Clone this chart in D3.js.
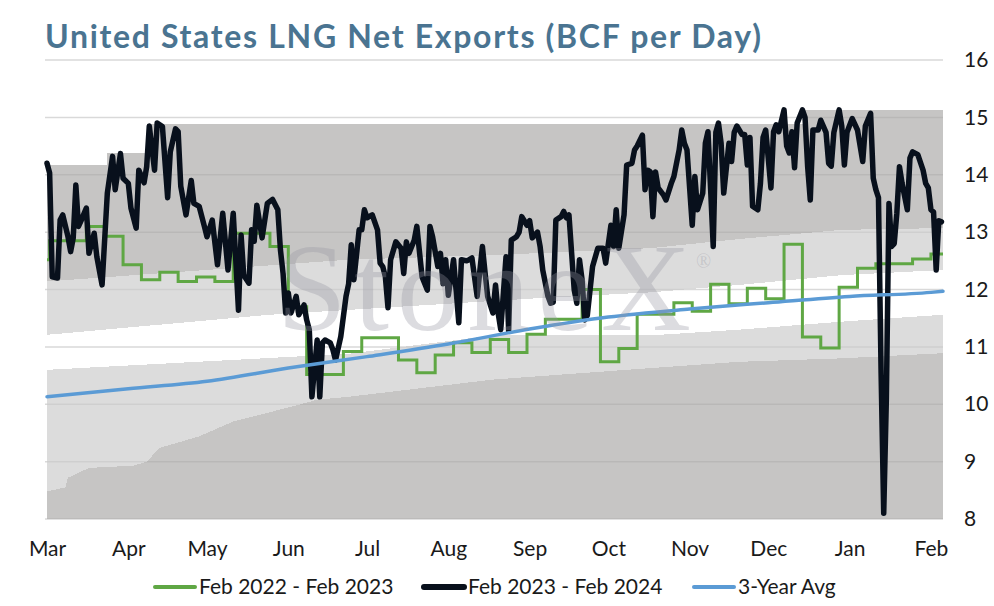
<!DOCTYPE html>
<html>
<head>
<meta charset="utf-8">
<script src="https://cdn.jsdelivr.net/npm/d3@7"></script>
<style>
  body { margin: 0; background: #fff; }
  svg { display: block; font-family: Lato, "Open Sans", sans-serif; }
</style>
</head>
<body>
<svg id="chart"></svg>
<script>
// ---- data (day 0 = 1 Mar) ----
const monthLabels = ["Mar", "Apr", "May", "Jun", "Jul", "Aug", "Sep", "Oct", "Nov", "Dec", "Jan", "Feb"];
const monthStartDays = [0, 31, 61, 92, 122, 153, 184, 214, 245, 275, 306, 337];
const yTickValues = [8, 9, 10, 11, 12, 13, 14, 15, 16];
const legendLabels = ["Feb 2022 - Feb 2023", "Feb 2023 - Feb 2024", "3-Year Avg"];

// weekly values, Feb 2022 - Feb 2023
const exports2022 = [[0,12.52],[1,12.85],[15,13.1],[22,12.93],[29,12.43],[36,12.17],[43,12.3],[50,12.14],[57,12.22],[64,12.14],
  [71,12.98],[85,12.75],[92,11.7],[99,10.52],[113,10.92],[120,11.16],[134,10.77],[141,10.55],[148,10.86],[155,11.07],
  [162,10.9],[169,11.13],[176,10.9],[183,11.22],[190,11.48],[204,12.0],[211,10.74],[218,10.97],[225,11.57],[239,11.77],
  [246,11.62],[253,12.09],[260,11.75],[267,12.02],[274,11.84],[281,12.79],[288,11.17],[295,10.98],[302,12.04],[309,12.37],
  [316,12.45],[330,12.53],[337,12.62],[341.6,12.62]];

// daily values, Feb 2023 - Feb 2024
const exports2023 = [[0,14.2],[1,14.03],[2,12.22],[4,12.2],[5,13.21],[6,13.3],[8,12.92],[9,12.66],[10,12.9],[11,13.82],
  [12,13.1],[13,13.2],[15,13.42],[16,12.63],[18,12.98],[19,12.57],[21,12.08],[23,13.68],[25,14.32],[26,13.74],[28,14.37],
  [29,13.94],[31,13.85],[32,13.42],[34,13.07],[35,14.08],[37,13.86],[38,14.14],[39,14.85],[41,14.08],[42,14.9],[44,14.84],
  [46,13.6],[47,14.4],[49,14.8],[50,14.75],[51,13.8],[53,13.3],[55,13.9],[56,13.5],[58,13.45],[60,13.1],[61,12.92],
  [63,13.21],[65,12.43],[67,13.33],[69,12.34],[71,13.33],[72,12.49],[73,11.64],[74,12.95],[75,12.25],[77,12.11],[78,13.04],
  [79,12.84],[80,13.47],[82,12.9],[84,13.5],[86,13.57],[88,13.39],[89,12.69],[90,12.28],[91,11.59],[92,11.94],[93,11.59],
  [95,11.88],[96,11.56],[98,11.73],[99,11.47],[100,11.3],[101,10.13],[103,11.12],[104,10.13],[105,11.07],[106,11.12],
  [108,11.07],[109,10.95],[110,10.77],[112,11.18],[114,11.88],[115,12.1],[116,12.78],[117,12.17],[119,13.04],[120,13.04],
  [121,13.39],[122,13.25],[124,13.3],[126,13.04],[127,12.46],[128,12.4],[129,12.22],[130,11.68],[131,12.52],[133,12.83],
  [135,12.72],[136,12.28],[137,12.83],[138,12.63],[140,12.86],[141,13.1],[143,12.22],[145,11.99],[146,13.1],[147,12.92],
  [149,12.4],[150,12.63],[151,12.1],[152,12.52],[153,11.9],[155,12.52],[157,11.42],[158,12.52],[160,12.5],[161,12.52],
  [162,12.55],[164,11.88],[166,12.75],[167,12.3],[168,11.88],[170,11.59],[171,12.08],[172,11.59],[173,11.3],[175,12.57],
  [176,11.28],[177,12.86],[179,12.92],[180,13.0],[181,13.27],[183,13.12],[184,13.2],[185,12.9],[187,13.0],[188,12.75],
  [189,12.34],[191,11.88],[192,11.76],[193,11.78],[194,13.21],[196,13.27],[197,13.36],[198,13.25],[199,13.3],[201,11.99],
  [202,11.76],[203,12.52],[204,12.17],[205,11.47],[206,11.55],[208,12.4],[210,12.72],[212,12.72],[213,12.46],[215,13.12],
  [216,12.75],[217,13.39],[218,12.72],[220,13.3],[221,14.17],[223,14.2],[224,14.43],[225,14.5],[227,14.69],[228,13.74],
  [229,14.08],[230,14.05],[231,13.27],[232,14.05],[233,13.77],[235,13.65],[236,13.56],[238,13.85],[239,13.97],[241,14.43],
  [242,14.78],[243,14.55],[244,14.43],[246,13.12],[247,13.97],[248,13.39],[250,13.68],[251,14.55],[252,14.75],[254,12.75],
  [255,14.74],[256,14.9],[257,14.55],[258,13.68],[260,14.55],[261,14.23],[262,14.74],[263,14.85],[265,14.7],[266,14.7],
  [267,14.17],[268,14.65],[269,13.45],[271,13.39],[272,13.85],[273,14.65],[274,14.78],[276,13.77],[277,14.75],[278,14.87],
  [279,14.75],[281,15.13],[282,14.5],[283,14.38],[284,14.75],[285,14.12],[286,14.9],[288,15.13],[289,15.0],[290,14.14],
  [291,13.56],[292,14.78],[294,14.78],[295,14.95],[297,14.74],[298,14.2],[299,14.15],[300,14.74],[302,15.13],[303,14.85],
  [304,14.17],[305,14.74],[307,14.98],[309,14.78],[311,14.23],[312,14.85],[314,15.07],[315,13.94],[316,13.74],[317,13.6],
  [318,10.54],[319,8.1],[320,10.08],[321,13.5],[322,12.75],[323,12.8],[324,13.33],[325,14.14],[326,13.85],[328,13.39],
  [329,14.29],[330,14.4],[332,14.35],[334,14.08],[335,13.85],[336,13.77],[337,13.39],[338,13.35],[339,12.34],[340,13.2],
  [341,13.18]];

const avg3yr = [[0,10.13],[31,10.27],[61,10.4],[92,10.63],[122,10.83],[153,11.05],[184,11.31],[214,11.52],
  [245,11.66],[275,11.77],[306,11.88],[337,11.95],[341.6,11.97]];

// range bands behind the lines
const rangeMax = [[0,14.17],[23,14.38],[38,14.88],[289,15.13],[341.6,15.13]];   // steps
const bandHigh = [[0,12.14],[115,12.52],[170,12.6],[230,12.72],[264,12.88],[303,13.04],[341.6,13.07]];
const bandMid = [[0,11.21],[85,11.56],[170,11.8],[188,11.85],[230,11.95],[264,12.08],[303,12.25],[341.6,12.34]];
const bandLow = [[0,10.6],[115,10.88],[170,11.2],[230,11.2],[264,11.3],[303,11.44],[341.6,11.56]];
const rangeMin = [[0,8.48],[7,8.55],[8,8.72],[16,8.89],[33,8.93],[38,9.0],[43,9.24],[58,9.44],[71,9.7],[84,9.85],
  [96,9.99],[103,10.08],[115,10.13],[170,10.43],[230,10.63],[264,10.74],[303,10.8],[341.6,10.89]];


class RangeChart {

    constructor( config ) {
        this.config = {
            parent: config.parent,
            width: config.width || 994,
            height: config.height || 606,
            margin: config.margin || {top:60, right:51, bottom:87, left:47}
        }
        this.init();
    }

    init() {
        let self = this;

        self.svg = d3.select( self.config.parent )
            .attr('width', self.config.width)
            .attr('height', self.config.height);

        self.inner_width = self.config.width - self.config.margin.left - self.config.margin.right;
        self.inner_height = self.config.height - self.config.margin.top - self.config.margin.bottom;

        self.chart = self.svg.append('g')
            .attr('transform', `translate(${self.config.margin.left}, ${self.config.margin.top})`);

        self.xscale = d3.scaleLinear()
            .domain( [0, d3.max(avg3yr, d => d[0])] )
            .range( [0, self.inner_width] );

        self.yscale = d3.scaleLinear()
            .domain( d3.extent(yTickValues) )
            .range( [self.inner_height, 0] );

        self.line = d3.line()
            .x( d => self.xscale(d[0]) )
            .y( d => self.yscale(d[1]) );

        self.smoothLine = d3.line()
            .curve( d3.curveMonotoneX )
            .x( d => self.xscale(d[0]) )
            .y( d => self.yscale(d[1]) );

        self.stepLine = d3.line()
            .curve( d3.curveStepAfter )
            .x( d => self.xscale(d[0]) )
            .y( d => self.yscale(d[1]) );
    }

    // turn [day, value] steps into explicit corner points
    steps( arr ) {
        let pts = [];
        arr.forEach( (d, i) => {
            if (i > 0) pts.push( [d[0], arr[i-1][1]] );
            pts.push( d );
        });
        return pts;
    }

    band( upper, lower ) {
        return this.line( upper.concat( lower.slice().reverse() ) ) + 'Z';
    }

    render() {
        let self = this;
        const floor = [[0, 8], [d3.max(avg3yr, d => d[0]), 8]];

        // gridlines first, the bands are partly see-through
        self.chart.append('g')
            .selectAll('line')
            .data(yTickValues)
            .join('line')
            .attr('x1', -2)
            .attr('x2', self.inner_width)
            .attr('y1', d => self.yscale(d))
            .attr('y2', d => self.yscale(d))
            .attr('stroke', '#d9d9d9')
            .attr('stroke-width', 1.5);

        // watermark, also under the bands
        self.svg.append('text')
            .attr('x', 277)
            .attr('y', 330)
            .attr('font-family', '"Liberation Serif", "DejaVu Serif", serif')
            .attr('font-size', 125)
            .attr('textLength', 414)
            .attr('lengthAdjust', 'spacing')
            .attr('fill', 'rgba(150,150,162,0.33)')
            .text('StoneX');
        self.svg.append('text')
            .attr('x', 696)
            .attr('y', 268)
            .attr('font-family', '"Liberation Serif", "DejaVu Serif", serif')
            .attr('font-size', 20)
            .attr('fill', 'rgba(150,150,162,0.33)')
            .text('®');

        const dark = 'rgba(169,167,166,0.66)';
        const light = 'rgba(202,202,202,0.66)';
        const bands = [
            [self.steps(rangeMax), bandHigh, dark],
            [bandHigh, bandMid, light],
            [bandLow, rangeMin, light],
            [rangeMin, floor, dark]
        ];
        self.chart.append('g')
            .selectAll('path')
            .data(bands)
            .join('path')
            .attr('d', d => self.band(d[0], d[1]))
            .attr('fill', d => d[2])
            .attr('shape-rendering', 'crispEdges');

        self.chart.append('path')
            .attr('d', self.stepLine(exports2022))
            .attr('fill', 'none')
            .attr('stroke', '#5fa744')
            .attr('stroke-width', 3);

        self.chart.append('path')
            .attr('d', self.line(exports2023))
            .attr('fill', 'none')
            .attr('stroke', '#08101c')
            .attr('stroke-width', 5.5)
            .attr('stroke-linejoin', 'round')
            .attr('stroke-linecap', 'round');

        self.chart.append('path')
            .attr('d', self.smoothLine(avg3yr))
            .attr('fill', 'none')
            .attr('stroke', '#5b9bd5')
            .attr('stroke-width', 3.5)
            .attr('stroke-linecap', 'round');

        // axes: labels only
        const yaxis = d3.axisRight( self.yscale )
            .tickValues(yTickValues)
            .tickSize(0)
            .tickPadding(21);
        self.chart.append('g')
            .attr('transform', `translate(${self.inner_width}, 0)`)
            .call(yaxis)
            .call(g => g.select('.domain').remove())
            .selectAll('text')
            .attr('font-family', 'Lato, sans-serif')
            .attr('font-size', 21)
            .attr('fill', '#1a1a1a');

        const xaxis = d3.axisBottom( self.xscale )
            .tickValues(monthStartDays)
            .tickFormat( (d, i) => monthLabels[i] )
            .tickSize(0)
            .tickPadding(22);
        self.chart.append('g')
            .attr('transform', `translate(0, ${self.inner_height})`)
            .call(xaxis)
            .call(g => g.select('.domain').remove())
            .selectAll('text')
            .attr('font-family', 'Lato, sans-serif')
            .attr('font-size', 21)
            .attr('fill', '#1a1a1a');

        // title
        self.svg.append('text')
            .attr('x', 45)
            .attr('y', 48)
            .attr('font-family', 'Lato, sans-serif')
            .attr('font-weight', 'bold')
            .attr('font-size', 32)
            .attr('textLength', 716)
            .attr('lengthAdjust', 'spacing')
            .attr('fill', '#4a7491')
            .text('United States LNG Net Exports (BCF per Day)');

        // legend
        const legendItems = [
            {x: 153, color: '#5fa744', width: 4},
            {x: 422, color: '#08101c', width: 6},
            {x: 692, color: '#5b9bd5', width: 4}
        ];
        const legend = self.svg.append('g')
            .selectAll('g')
            .data(legendItems)
            .join('g')
            .attr('transform', d => `translate(${d.x}, 587)`);
        legend.append('line')
            .attr('x1', 2).attr('x2', 42)
            .attr('stroke', d => d.color)
            .attr('stroke-width', d => d.width)
            .attr('stroke-linecap', 'round');
        legend.append('text')
            .attr('x', 46)
            .attr('y', 7)
            .attr('font-family', 'Lato, sans-serif')
            .attr('font-size', 21)
            .attr('fill', '#1a1a1a')
            .text( (d, i) => legendLabels[i] );
    }
}

let chart = new RangeChart({ parent: '#chart' });
chart.render();
</script>
</body>
</html>
